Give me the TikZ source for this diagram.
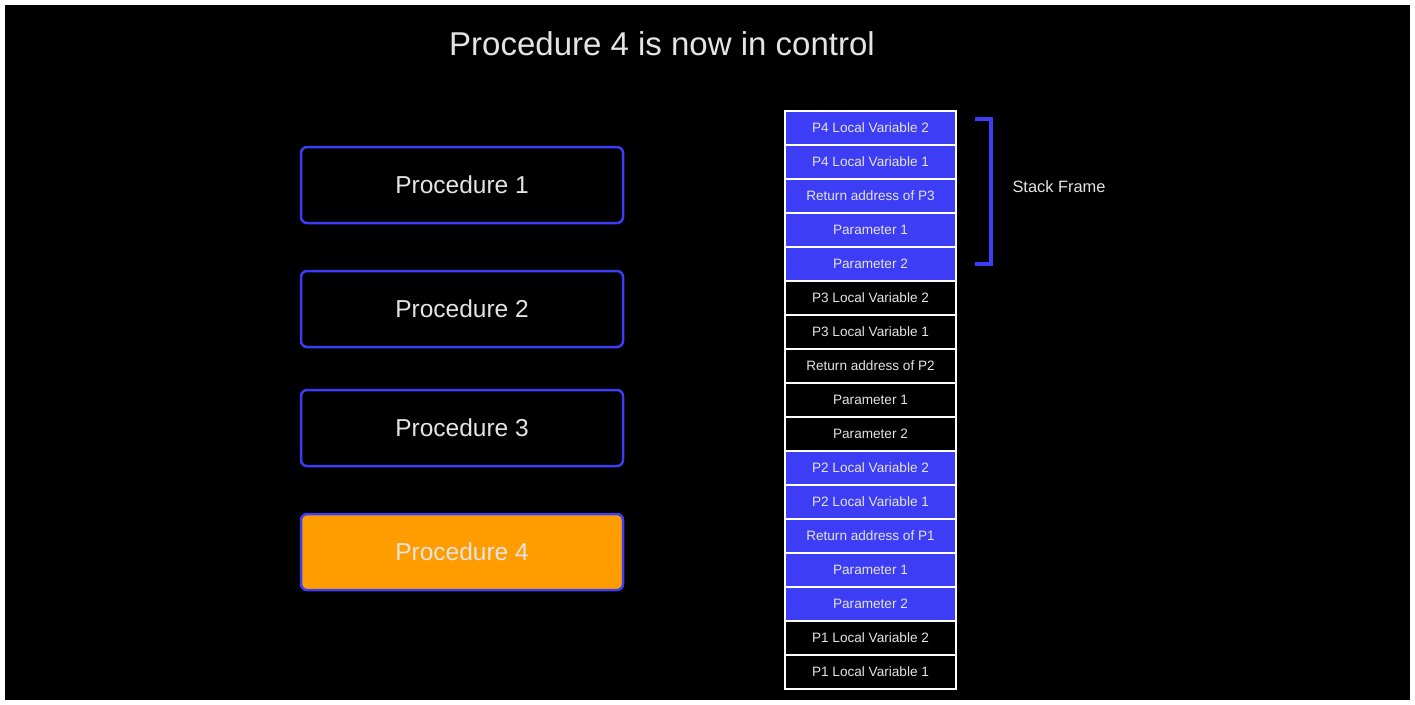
\documentclass[tikz,border=0pt]{standalone}
\usepackage{fontspec}
\setmainfont{Liberation Sans}
\definecolor{slotblue}{RGB}{61,61,245}
\definecolor{runorange}{RGB}{255,157,0}
\definecolor{txtgray}{RGB}{228,228,228}
\tikzset{
  proc/.style={draw=slotblue, line width=2.5pt, rounded corners=6pt,
    minimum width=322pt, minimum height=76pt, inner sep=0pt,
    text=txtgray, font=\fontsize{24.5}{28}\selectfont},
  slot/.style={draw=white, line width=2pt, minimum width=171pt,
    minimum height=34pt, inner sep=0pt, text=txtgray,
    font=\fontsize{13.6}{15}\selectfont},
}
\begin{document}
\begin{tikzpicture}[x=1pt,y=-1pt]
\useasboundingbox (0,0) rectangle (1415,704);
\fill[white] (0,0) rectangle (1415,704);
\fill[black] (5,5) rectangle (1410,700);
\node[text=txtgray, font=\fontsize{33}{38}\selectfont] (title) at (662,44) {Procedure 4 is now in control};
% procedures
\node[proc] (p1) at (462,185) {Procedure 1};
\node[proc] (p2) at (462,309) {Procedure 2};
\node[proc] (p3) at (462,428) {Procedure 3};
\node[proc, fill=runorange] (p4) at (462,552) {Procedure 4};
% the stack
\foreach \lbl/\clr [count=\i] in {
    P4 Local Variable 2/slotblue, P4 Local Variable 1/slotblue,
    Return address of P3/slotblue, Parameter 1/slotblue, Parameter 2/slotblue,
    P3 Local Variable 2/black, P3 Local Variable 1/black,
    Return address of P2/black, Parameter 1/black, Parameter 2/black,
    P2 Local Variable 2/slotblue, P2 Local Variable 1/slotblue,
    Return address of P1/slotblue, Parameter 1/slotblue, Parameter 2/slotblue,
    P1 Local Variable 2/black, P1 Local Variable 1/black}
  \node[slot, fill=\clr] (s\i) at (870.5,{94+34*\i}) {\lbl};
% bracket
\coordinate (brtop) at (991,119);
\coordinate (brbot) at (991,264);
\draw[slotblue, line width=3.5pt] (brtop) ++(-16,0) -- (brtop) -- (brbot) -- ++(-16,0);
\node[text=txtgray, font=\fontsize{16.4}{19}\selectfont] (frame) at (1059,187) {Stack Frame};
\end{tikzpicture}
\end{document}
